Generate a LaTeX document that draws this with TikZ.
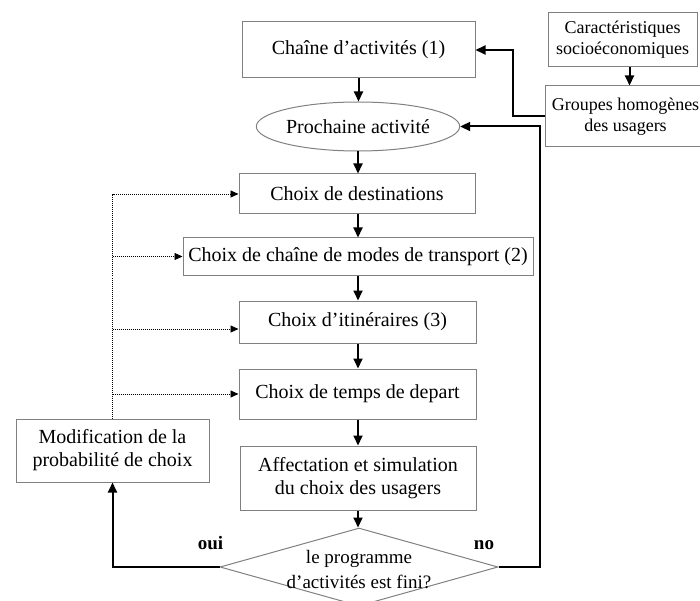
\documentclass[tikz,border=0pt]{standalone}
\usepackage{fontspec}
\setmainfont{Liberation Serif}
\usetikzlibrary{arrows.meta,shapes.geometric}
\definecolor{boxgray}{RGB}{128,128,128}
\tikzset{
  box/.style={draw=boxgray, line width=1pt, rectangle, inner sep=0pt,
    align=center, font=\fontsize{20}{23}\selectfont},
  smallbox/.style={box, font=\fontsize{18}{21}\selectfont},
  oval/.style={draw=boxgray, line width=1pt, ellipse, inner sep=0pt,
    font=\fontsize{20}{23}\selectfont},
  decision/.style={draw=boxgray, line width=1pt, diamond, inner sep=0pt},
  flow/.style={draw=black, line width=2pt, -{Triangle[length=10pt,width=9pt]}},
  feedback/.style={draw=black, line width=0.9pt, dash pattern=on 1pt off 1pt,
    -{Triangle[length=8pt,width=7pt]}},
  answer/.style={font=\fontsize{19}{22}\selectfont\bfseries, inner sep=0pt},
  question/.style={align=center, inner sep=0pt, font=\fontsize{19}{25}\selectfont}
}
\begin{document}
\begin{tikzpicture}[x=1pt, y=-1pt]
  \useasboundingbox (0,0) rectangle (700,601);
  \clip (0,0) rectangle (700,601);

  % main column
  \node[box, minimum width=233pt, minimum height=56pt] (ca) at (358.5,50)
    {Chaîne d’activités (1)};
  \node[oval, minimum width=178pt, minimum height=49pt] (pa) at (358,126.5)
    {Prochaine activité};
  \node[box, minimum width=236pt, minimum height=40pt] (dest) at (357,194)
    {Choix de destinations};
  \node[box, minimum width=350pt, minimum height=37pt] (mode) at (358,256.5)
    {Choix de chaîne de modes de transport (2)};
  \node[box, minimum width=237pt, minimum height=42pt] (itin) at (357.5,322)
    {Choix d’itinéraires (3)};
  \node[box, minimum width=237pt, minimum height=50pt] (temps) at (357.5,394)
    {Choix de temps de depart};
  \node[box, minimum width=236pt, minimum height=64pt] (aff) at (358,478)
    {Affectation et simulation\\du choix des usagers};
  \node[decision, minimum width=278pt, minimum height=78pt] (fin) at (359,567) {};
  \node[question] (fintxt) at (359,570)
    {le programme\\d’activités est fini?};

  % side boxes
  \node[box, minimum width=193pt, minimum height=63pt] (modif) at (112.5,450.5)
    {Modification de la\\probabilité de choix};
  \node[smallbox, minimum width=149pt, minimum height=54pt] (car) at (622.5,40)
    {Caractéristiques\\socioéconomiques};
  \node[smallbox, minimum width=161pt, minimum height=61pt] (grp) at (625.5,116.5)
    {Groupes homogènes\\des usagers};

  % answers
  \node[answer] (oui) at (210.5,543) {oui};
  \node[answer] (non) at (484,545) {no};

  % routing corners
  \coordinate (grpbend) at (513,0);
  \coordinate (nobend) at (540,0);
  \coordinate (itinin) at ([yshift=-7pt]itin.west);

  % main flow
  \draw[flow] (ca.south) -- (ca.south |- pa.north);
  \draw[flow] (pa.south) -- (pa.south |- dest.north);
  \draw[flow] (mode.north |- dest.south) -- (mode.north);
  \draw[flow] (mode.south) -- (mode.south |- itin.north);
  \draw[flow] (mode.south |- itin.south) -- (mode.south |- temps.north);
  \draw[flow] (mode.south |- temps.south) -- (mode.south |- aff.north);
  \draw[flow] (aff.south) -- (aff.south |- fin.north);

  % decision outcomes
  \draw[flow] (fin.west) -| (modif.south);
  \draw[flow] (fin.east) -| (nobend |- pa.east) -- (pa.east);

  % user groups
  \draw[flow] ([xshift=4pt]grp.north |- car.south) -- ([xshift=4pt]grp.north);
  \draw[flow] (grp.west) -| (grpbend |- ca.east) -- (ca.east);

  % feedback to the choice steps
  \draw[feedback] (modif.north) |- (dest.west);
  \draw[feedback] (modif.north |- mode.west) -- (mode.west);
  \draw[feedback] (modif.north |- itinin) -- (itinin);
  \draw[feedback] (modif.north |- temps.west) -- (temps.west);
\end{tikzpicture}
\end{document}
